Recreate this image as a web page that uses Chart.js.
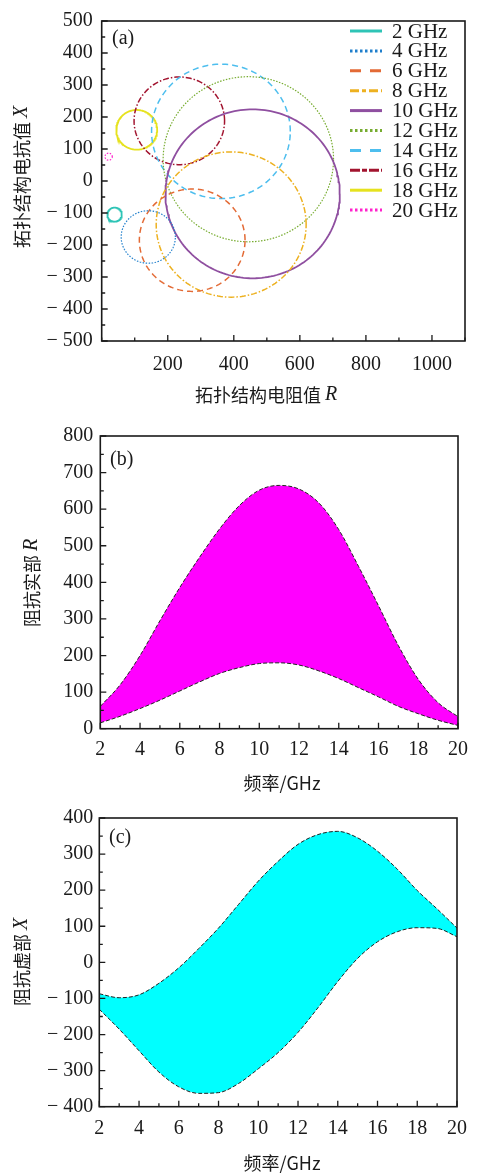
<!DOCTYPE html>
<html>
<head>
<meta charset="utf-8">
<script src="https://cdn.jsdelivr.net/npm/chart.js@4"></script>
<style>
  body { margin: 0; background: #fff; width: 477px; height: 1173px; position: relative; overflow: hidden; }
  canvas { position: absolute; left: 0; }
</style>
</head>
<body>
<canvas id="chartA" width="477" height="415" style="top:0"></canvas>
<canvas id="chartB" width="477" height="385" style="top:415px"></canvas>
<canvas id="chartC" width="477" height="373" style="top:800px"></canvas>
<script>
// (a) impedance circles: center (R, X) and radius, one per frequency
const freqNames = ['2 GHz', '4 GHz', '6 GHz', '8 GHz', '10 GHz', '12 GHz', '14 GHz', '16 GHz', '18 GHz', '20 GHz'];
const centerR = [39, 141, 274, 392, 457, 444, 361, 235, 106, 21];
const centerX = [-105, -175, -185, -136, -40, 68, 155, 188, 160, 76];
const circleRadius = [22, 82, 160, 227, 264, 258, 210, 137, 62, 11];

// (b), (c) band limits against frequency
const freqGHz = [2, 3, 4, 5, 6, 7, 8, 9, 10, 11, 12, 13, 14, 15, 16, 17, 18, 19, 20];
const realUpper = [61, 120, 200, 295, 386, 469, 546, 610, 652, 665, 655, 617, 544, 443, 336, 227, 135, 71, 33];
const realLower = [16, 34, 55, 78, 103, 128, 151, 167, 178, 180, 174, 158, 137, 112, 87, 61, 41, 23, 9];
const imagUpper = [-87, -98, -90, -58, -15, 38, 95, 160, 225, 280, 327, 354, 363, 345, 308, 258, 199, 148, 95];
const imagLower = [-130, -185, -245, -304, -345, -363, -361, -336, -295, -250, -194, -126, -53, 11, 57, 85, 96, 94, 71];

// styles
const circleColors = ['#2ec4b6', '#1f7fcc', '#e36a35', '#edb120', '#8f4fa0', '#77ac30', '#4dbeee', '#a2142f', '#e6e21e', '#ff22cc'];
const circleWidths = [1.8, 1.2, 1.5, 1.5, 1.8, 1.2, 1.5, 1.5, 1.8, 1.2];
const circleDash = [[], [1.5, 1.5], [6, 4], [6, 2, 1.5, 2], [], [1.5, 1.5], [6, 4], [6, 2, 1.5, 2], [], [1.5, 1.5]];
const legendDash = [[], [2.5, 2.5], [11, 9], [9, 3, 4, 3], [], [2.5, 2.5], [11, 9], [10, 2, 5, 2], [], [2.5, 2.5]];

const SERIF = '"Liberation Serif", "Times New Roman", serif';
const CJK = '"Noto Sans CJK SC", sans-serif';
const INK = '#1a1a1a';

Chart.defaults.font.family = SERIF;
Chart.defaults.color = INK;

function minus(v) {
    return v < 0 ? '\u2212 ' + Math.abs(v) : String(v);
}

// outline of a circle given its center and radius (data units)
function circleOutline(cx, cy, r) {
    const pts = [];
    for (let k = 0; k <= 180; k++) {
        const t = (k / 180) * 2 * Math.PI;
        pts.push({ x: cx + r * Math.cos(t), y: cy + r * Math.sin(t) });
    }
    return pts;
}

function drawParts(ctx, parts, cx, cy, rotate) {
    ctx.save();
    ctx.translate(cx, cy);
    if (rotate) ctx.rotate(-Math.PI / 2);
    let total = 0;
    parts.forEach(p => { ctx.font = p.font; p.w = ctx.measureText(p.text).width; total += p.w; });
    let x = -total / 2;
    ctx.textBaseline = 'middle';
    ctx.textAlign = 'left';
    ctx.fillStyle = INK;
    parts.forEach(p => { ctx.font = p.font; ctx.fillText(p.text, x, 0); x += p.w; });
    ctx.restore();
}

// inward ticks, closed frame, panel tag and axis titles
const frame = {
    id: 'frame',
    afterDraw(chart, args, opts) {
        const { ctx, chartArea: a, scales } = chart;
        ctx.save();
        ctx.strokeStyle = INK;
        ctx.lineWidth = 1.3;
        ctx.beginPath();
        scales.x.ticks.forEach(t => {
            const px = scales.x.getPixelForValue(t.value);
            const len = t.label ? 6 : 3.5;
            ctx.moveTo(px, a.bottom);
            ctx.lineTo(px, a.bottom - len);
        });
        scales.y.ticks.forEach(t => {
            const py = scales.y.getPixelForValue(t.value);
            const len = t.label ? 6 : 3.5;
            ctx.moveTo(a.left, py);
            ctx.lineTo(a.left + len, py);
        });
        ctx.stroke();
        ctx.lineWidth = 1.6;
        ctx.strokeRect(a.left, a.top, a.right - a.left, a.bottom - a.top);

        ctx.font = '20px ' + SERIF;
        ctx.fillStyle = INK;
        ctx.textBaseline = 'middle';
        ctx.fillText(opts.tag, opts.tagPos[0], opts.tagPos[1]);
        ctx.restore();

        drawParts(ctx, opts.xTitle, opts.xTitlePos[0], opts.xTitlePos[1], false);
        drawParts(ctx, opts.yTitle, opts.yTitlePos[0], opts.yTitlePos[1], true);
    }
};

// legend in the upper right corner of (a)
const cornerLegend = {
    id: 'cornerLegend',
    afterDraw(chart) {
        const ctx = chart.ctx;
        ctx.save();
        ctx.font = '21px ' + SERIF;
        ctx.textBaseline = 'middle';
        chart.data.datasets.forEach((ds, i) => {
            const y = 31 + i * 19.9;
            ctx.strokeStyle = ds.borderColor;
            ctx.lineWidth = 3;
            ctx.setLineDash(ds.legendDash);
            ctx.beginPath();
            ctx.moveTo(350, y);
            ctx.lineTo(382, y);
            ctx.stroke();
            ctx.fillStyle = INK;
            ctx.fillText(ds.label, 392, y + 1);
        });
        ctx.restore();
    }
};

function fixedBox(box, canvasH) {
    return {
        padding: { left: 0, right: 477 - box.right, top: box.top, bottom: 0 },
        xHeight: canvasH - box.bottom,
        yWidth: box.left
    };
}

function axes(lay, xCfg, yCfg) {
    return {
        x: {
            type: 'linear', min: xCfg.min, max: xCfg.max,
            grid: { display: false, drawTicks: false, tickLength: 0 }, border: { display: false },
            afterFit: s => { s.height = lay.xHeight; },
            ticks: {
                stepSize: xCfg.step, autoSkip: false, maxRotation: 0, padding: xCfg.pad,
                font: { size: 20 },
                callback: xCfg.label
            }
        },
        y: {
            type: 'linear', min: yCfg.min, max: yCfg.max,
            grid: { display: false, drawTicks: false, tickLength: 0 }, border: { display: false },
            afterFit: s => { s.width = lay.yWidth; },
            ticks: {
                stepSize: yCfg.step, autoSkip: false, padding: yCfg.pad,
                font: { size: 20 },
                callback: yCfg.label
            }
        }
    };
}

// ---------- (a) ----------
const layA = fixedBox({ left: 101.7, right: 465, top: 11, bottom: 341 }, 415);
new Chart(document.getElementById('chartA'), {
    type: 'scatter',
    data: {
        datasets: freqNames.map((name, i) => ({
            label: name,
            data: circleOutline(centerR[i], centerX[i], circleRadius[i]),
            showLine: true,
            pointRadius: 0,
            borderColor: circleColors[i],
            backgroundColor: circleColors[i],
            borderWidth: circleWidths[i],
            borderDash: circleDash[i],
            legendDash: legendDash[i]
        }))
    },
    options: {
        responsive: false,
        animation: false,
        events: [],
        layout: { padding: layA.padding, autoPadding: false },
        plugins: {
            legend: { display: false },
            tooltip: { enabled: false },
            frame: {
                tag: '(a)', tagPos: [112, 39],
                xTitle: [{ text: '拓扑结构电阻值 ', font: '18px ' + CJK }, { text: 'R', font: 'italic 20px ' + SERIF }],
                xTitlePos: [266, 395],
                yTitle: [{ text: '拓扑结构电抗值 ', font: '18px ' + CJK }, { text: 'X', font: 'italic 20px ' + SERIF }],
                yTitlePos: [22, 177]
            }
        },
        scales: axes(layA,
            { min: 0, max: 1100, step: 100, pad: 12, label: v => (Math.round(v) % 200 === 0 && v > 0 && v <= 1000) ? String(v) : '' },
            { min: -500, max: 500, step: 50, pad: 9, label: v => Math.round(v) % 100 === 0 ? minus(v) : '' })
    },
    plugins: [frame, cornerLegend]
});

// ---------- (b), (c) ----------
function bandChart(id, lay, lower, upper, fillColor, xPad, yCfg, plug) {
    const edge = { borderColor: '#222', borderWidth: 1, borderDash: [4, 2], pointRadius: 0, cubicInterpolationMode: 'monotone' };
    return new Chart(document.getElementById(id), {
        type: 'line',
        data: {
            datasets: [
                Object.assign({ label: 'lower', data: freqGHz.map((f, i) => ({ x: f, y: lower[i] })), fill: false }, edge),
                Object.assign({ label: 'upper', data: freqGHz.map((f, i) => ({ x: f, y: upper[i] })), fill: '-1', backgroundColor: fillColor }, edge)
            ]
        },
        options: {
            responsive: false,
            animation: false,
            events: [],
            layout: { padding: lay.padding, autoPadding: false },
            plugins: { legend: { display: false }, tooltip: { enabled: false }, frame: plug },
            scales: axes(lay,
                { min: 2, max: 20, step: 1, pad: xPad, label: v => Math.round(v) % 2 === 0 ? String(v) : '' },
                yCfg)
        },
        plugins: [frame]
    });
}

bandChart('chartB', fixedBox({ left: 100.3, right: 465.7, top: 21, bottom: 313.7 }, 385),
    realLower, realUpper, '#ff00ff', 9,
    { min: 0, max: 800, step: 50, pad: 7, label: v => Math.round(v) % 100 === 0 ? minus(v) : '' },
    {
        tag: '(b)', tagPos: [110, 45],
        xTitle: [{ text: '频率/GHz', font: '18px ' + CJK }],
        xTitlePos: [282, 368],
        yTitle: [{ text: '阻抗实部 ', font: '18px ' + CJK }, { text: 'R', font: 'italic 20px ' + SERIF }],
        yTitlePos: [32, 168]
    });

bandChart('chartC', fixedBox({ left: 99.3, right: 464, top: 15, bottom: 306.7 }, 373),
    imagLower, imagUpper, '#00ffff', 10,
    { min: -400, max: 400, step: 50, pad: 6, label: v => Math.round(v) % 100 === 0 ? minus(v) : '' },
    {
        tag: '(c)', tagPos: [109, 38],
        xTitle: [{ text: '频率/GHz', font: '18px ' + CJK }],
        xTitlePos: [282, 363],
        yTitle: [{ text: '阻抗虚部 ', font: '18px ' + CJK }, { text: 'X', font: 'italic 20px ' + SERIF }],
        yTitlePos: [22, 162]
    });
</script>
</body>
</html>
